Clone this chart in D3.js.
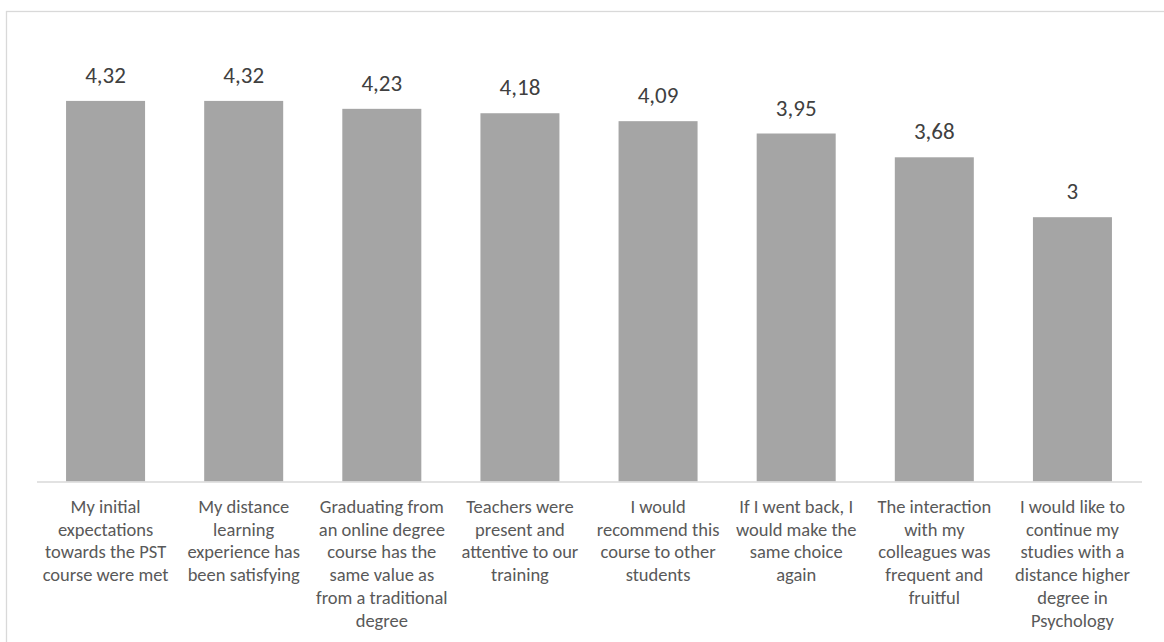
<!DOCTYPE html>
<html>
<head>
<meta charset="utf-8">
<script src="https://cdn.jsdelivr.net/npm/d3@7"></script>
<style>
  html, body { margin: 0; padding: 0; background: #fff; }
  svg { display: block; }
  text { font-family: Carlito, Calibri, Lato, "Open Sans", sans-serif; }
</style>
</head>
<body>
<svg id="chart" width="1164" height="642"></svg>
<script>
// Survey statements (wrapped as shown under each bar)
const categories = [
  ["My initial", "expectations", "towards the PST", "course were met"],
  ["My distance", "learning", "experience has", "been satisfying"],
  ["Graduating from", "an online degree", "course has the", "same value as", "from a traditional", "degree"],
  ["Teachers were", "present and", "attentive to our", "training"],
  ["I would", "recommend this", "course to other", "students"],
  ["If I went back, I", "would make the", "same choice", "again"],
  ["The interaction", "with my", "colleagues was", "frequent and", "fruitful"],
  ["I would like to", "continue my", "studies with a", "distance higher", "degree in", "Psychology"]
];
// Mean agreement scores
const values = [4.32, 4.32, 4.23, 4.18, 4.09, 3.95, 3.68, 3];
const valueLabels = ["4,32", "4,32", "4,23", "4,18", "4,09", "3,95", "3,68", "3"];
const yDomain = [0, 5];

const svg = d3.select("#chart");

// chart frame
svg.append("rect")
  .attr("x", 6.5).attr("y", 11.5)
  .attr("width", 1180).attr("height", 660)
  .attr("fill", "none")
  .attr("stroke", "#D9D9D9")
  .attr("stroke-width", 1.3);

const x = d3.scaleBand()
  .domain(d3.range(values.length))
  .range([36.5, 1141.5])
  .paddingInner(0.428)
  .paddingOuter(0.214);

const y = d3.scaleLinear().domain(yDomain).range([481.5, 41]);

// bars
svg.append("g").selectAll("rect")
  .data(values)
  .join("rect")
  .attr("x", (d, i) => x(i))
  .attr("y", d => y(d))
  .attr("width", x.bandwidth())
  .attr("height", d => y(0) - y(d))
  .attr("fill", "#A5A5A5");

// category axis
const xAxis = svg.append("g")
  .attr("transform", `translate(0,${y(0)})`)
  .call(d3.axisBottom(x).tickSize(0).tickFormat(""));
xAxis.select(".domain").attr("stroke", "#D9D9D9").attr("stroke-width", 1.3);

xAxis.selectAll(".tick").each(function(i) {
  const t = d3.select(this).append("text")
    .attr("text-anchor", "middle")
    .attr("fill", "#595959")
    .attr("font-size", 18.5)
    .attr("y", 31.5);
  categories[i].forEach((line, k) => {
    t.append("tspan").attr("x", 0).attr("dy", k === 0 ? 0 : 22.7).text(line);
  });
});

// value labels
svg.append("g").selectAll("text")
  .data(values)
  .join("text")
  .attr("x", (d, i) => x(i) + x.bandwidth() / 2)
  .attr("y", d => y(d) - 18)
  .attr("text-anchor", "middle")
  .attr("fill", "#404040")
  .attr("font-size", 23)
  .text((d, i) => valueLabels[i]);
</script>
</body>
</html>
